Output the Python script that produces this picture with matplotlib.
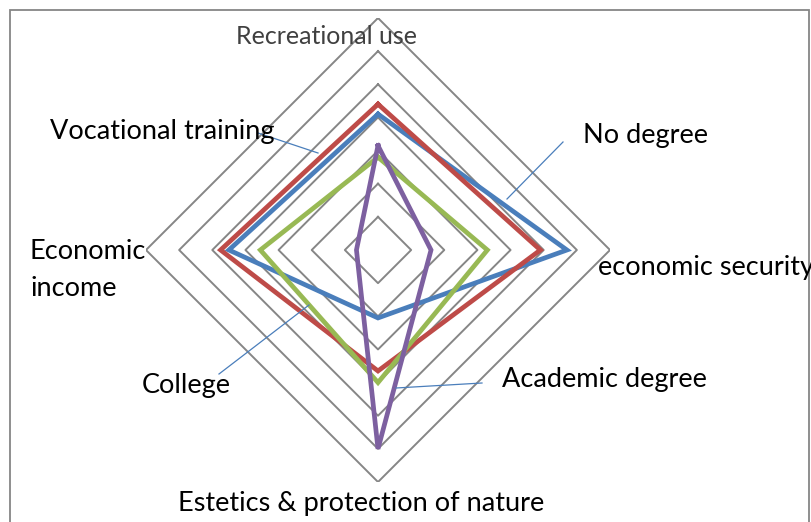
import numpy as np
import matplotlib.pyplot as plt
from matplotlib.patches import Rectangle
from matplotlib.lines import Line2D

# %%    data

categories = ["Recreational use", "economic security",
              "Estetics & protection of nature", "Economic\nincome"]

series_names = ["No degree", "Vocational training", "College", "Academic degree"]
no_degree = [4.1, 5.7, 2.05, 4.5]
vocational = [4.4, 4.9, 3.65, 4.75]
college = [2.8, 3.3, 4.0, 3.55]
academic = [3.15, 1.6, 6.0, 0.65]

rings = [1, 2, 3, 4, 5, 6, 7]

colors = ["#4a7ebb", "#be4b48", "#98b954", "#7d60a0"]
grid_color = "#868686"

plt.rcParams['font.family'] = ['Lato', 'DejaVu Sans']

W, H = 811, 522
fig = plt.figure(figsize=(W / 100, H / 100), dpi=100)


def fx(x):
    return x / W


def fy(y):
    return (H - y) / H


# chart border
fig.add_artist(Rectangle((fx(10), fy(545)), fx(799), 535 / H, fill=False,
                         edgecolor=grid_color, lw=1.3, transform=fig.transFigure))

# %%    radar

cx, cy, rad = 378, 250, 232
ax = fig.add_axes([fx(cx - rad), fy(cy + rad), 2 * rad / W, 2 * rad / H],
                  projection='polar')
ax.set_theta_offset(np.pi / 2)
ax.set_theta_direction(-1)
ax.set_ylim(0, rings[-1])
ax.grid(False)
ax.spines['polar'].set_visible(False)
ax.set_xticks([])
ax.set_yticks([])
ax.patch.set_alpha(0)

angles = np.linspace(0, 2 * np.pi, len(categories), endpoint=False)
closed = np.append(angles, angles[0])

for r in rings:
    ax.plot(closed, [r] * len(closed), color=grid_color, lw=1.4, zorder=1)

for name, vals, c in zip(series_names, [no_degree, vocational, college, academic], colors):
    ax.plot(closed, vals + vals[:1], color=c, lw=3.4, solid_joinstyle='miter',
            label=name, zorder=3)

# %%    category labels and series labels

fs = 19.5
fig.text(fx(327), fy(36), categories[0], ha='center', va='center', fontsize=18,
         color='#404040', zorder=0)
fig.text(fx(598), fy(268), categories[1], ha='left', va='center', fontsize=fs)
fig.text(fx(361), fy(503), categories[2], ha='center', va='center', fontsize=fs)
fig.text(fx(30), fy(270), categories[3], ha='left', va='center', fontsize=fs,
         linespacing=1.6)

label_pos = [(583, 136), (50, 131), (142, 386), (502, 379)]
leaders = [((563, 142), (507, 199)), ((258, 133), (318, 153)),
           ((219, 374), (309, 305)), ((482, 383), (396, 388))]
for name, (tx, ty), ((x0, y0), (x1, y1)) in zip(series_names, label_pos, leaders):
    fig.text(fx(tx), fy(ty), name, ha='left', va='center', fontsize=fs)
    fig.add_artist(Line2D([fx(x0), fx(x1)], [fy(y0), fy(y1)], color="#4a7ebb",
                          lw=0.9, transform=fig.transFigure))

fig.savefig("out.png", dpi=100)
